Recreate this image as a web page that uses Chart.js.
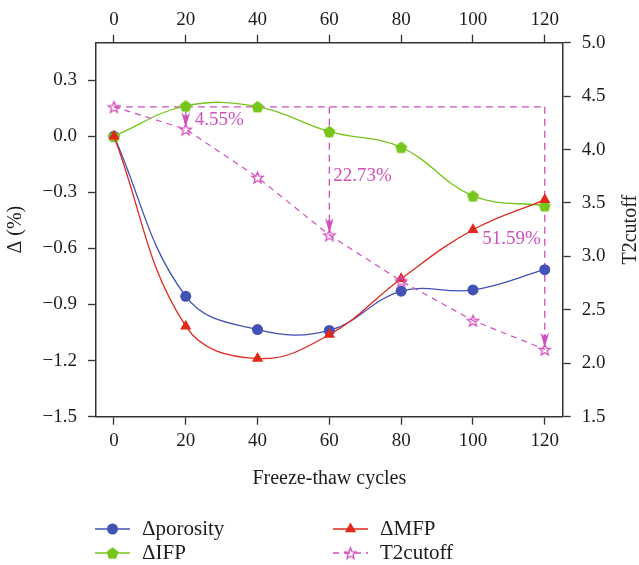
<!DOCTYPE html>
<html>
<head>
<meta charset="utf-8">
<script src="https://cdn.jsdelivr.net/npm/chart.js@4.4.0/dist/chart.umd.min.js"></script>
<style>
  html, body { margin: 0; padding: 0; background: #ffffff; }
  #wrap { width: 639px; height: 565px; position: relative; }
</style>
</head>
<body>
<div id="wrap"><canvas id="c" width="639" height="565"></canvas></div>
<script>
// ---- data ----
const cycles = [0, 20, 40, 60, 80, 100, 120];
const porosity = [0, -0.856, -1.034, -1.039, -0.829, -0.822, -0.714];
const mfp = [0, -1.016, -1.189, -1.061, -0.762, -0.500, -0.340];
const ifp = [0, 0.162, 0.158, 0.025, -0.059, -0.319, -0.372];
const t2cutoff = [4.40, 4.19, 3.74, 3.20, 2.77, 2.40, 2.13];
const refLevel = 4.40;
const arrowCycles = [20, 60, 120];
const arrowLabels = ['4.55%', '22.73%', '51.59%'];
const seriesNames = ['\u0394porosity', '\u0394IFP', '\u0394MFP', 'T2cutoff'];
const xTicks = [0, 20, 40, 60, 80, 100, 120];
const xTickLabels = ['0', '20', '40', '60', '80', '100', '120'];
const yTicks = [-1.5, -1.2, -0.9, -0.6, -0.3, 0.0, 0.3];
const yTickLabels = ['\u22121.5', '\u22121.2', '\u22120.9', '\u22120.6', '\u22120.3', '0.0', '0.3'];
const y2Ticks = [1.5, 2.0, 2.5, 3.0, 3.5, 4.0, 4.5, 5.0];
const y2TickLabels = ['1.5', '2.0', '2.5', '3.0', '3.5', '4.0', '4.5', '5.0'];

// ---- styles ----
const FONT = "'Liberation Serif', 'DejaVu Serif', serif";
const TXT = '#1e1b1c';
const AXIS = '#333333';
const BLUE = '#4151b6';
const GREEN = '#76c51b';
const RED = '#e2271b';
const MAG = '#d24fbd';

function pentagonCanvas(r, color) {
  const s = Math.ceil(r * 2 + 2);
  const cv = document.createElement('canvas');
  cv.width = s; cv.height = s;
  const g = cv.getContext('2d');
  g.fillStyle = color;
  g.beginPath();
  for (let i = 0; i < 5; i++) {
    const a = -Math.PI / 2 + i * 2 * Math.PI / 5;
    const px = s / 2 + r * Math.cos(a), py = s / 2 + r * Math.sin(a) + 0.6;
    i ? g.lineTo(px, py) : g.moveTo(px, py);
  }
  g.closePath(); g.fill();
  return cv;
}
function starCanvas(ro, ri, color) {
  const s = Math.ceil(ro * 2 + 3);
  const cv = document.createElement('canvas');
  cv.width = s; cv.height = s;
  const g = cv.getContext('2d');
  g.strokeStyle = color; g.lineWidth = 1.3;
  g.beginPath();
  for (let i = 0; i < 10; i++) {
    const a = -Math.PI / 2 + i * Math.PI / 5;
    const r = i % 2 ? ri : ro;
    const px = s / 2 + r * Math.cos(a), py = s / 2 + r * Math.sin(a) + 0.7;
    i ? g.lineTo(px, py) : g.moveTo(px, py);
  }
  g.closePath(); g.stroke();
  return cv;
}
const pent = pentagonCanvas(6.3, GREEN);
const star = starCanvas(6, 2.6, MAG);

const pts = arr => cycles.map((c, i) => ({ x: c, y: arr[i] }));

const refPlugin = {
  id: 'refLines',
  beforeDatasetsDraw(chart) {
    const { ctx, scales: { x, y2 } } = chart;
    ctx.save();
    ctx.strokeStyle = MAG; ctx.fillStyle = MAG; ctx.lineWidth = 1.3;
    const y0 = y2.getPixelForValue(refLevel);
    ctx.setLineDash([7, 5]);
    ctx.beginPath();
    ctx.moveTo(x.getPixelForValue(cycles[0]), y0);
    ctx.lineTo(x.getPixelForValue(cycles[cycles.length - 1]), y0);
    ctx.stroke();
    const lbl = [
      { dx: 9, dy: 13, align: 'left' },
      { dx: 4, dy: 69, align: 'left' },
      { dx: -4, dy: 132, align: 'right' }
    ];
    arrowCycles.forEach((c, i) => {
      const idx = cycles.indexOf(c);
      const px = x.getPixelForValue(c);
      const tipY = y2.getPixelForValue(t2cutoff[idx]) - 2;
      ctx.setLineDash([7, 5]);
      ctx.beginPath(); ctx.moveTo(px, y0); ctx.lineTo(px, tipY - 10); ctx.stroke();
      ctx.setLineDash([]);
      ctx.beginPath();
      ctx.moveTo(px, tipY);
      ctx.lineTo(px - 4.3, tipY - 15);
      ctx.lineTo(px, tipY - 10);
      ctx.lineTo(px + 4.3, tipY - 15);
      ctx.closePath(); ctx.fill();
      ctx.fillRect(px - 1.2, tipY - 13, 2.4, 9);
      ctx.font = '19px ' + FONT;
      ctx.textAlign = lbl[i].align; ctx.textBaseline = 'middle';
      ctx.fillText(arrowLabels[i], px + lbl[i].dx, y0 + lbl[i].dy);
    });
    ctx.restore();
  },
  afterDraw(chart) {
    const { ctx, chartArea } = chart;
    ctx.save();
    // right axis title (reads upward)
    ctx.fillStyle = TXT;
    ctx.font = '20px ' + FONT;
    ctx.translate(631, (chartArea.top + chartArea.bottom) / 2);
    ctx.rotate(-Math.PI / 2);
    ctx.textAlign = 'center'; ctx.textBaseline = 'middle';
    ctx.fillText('T2cutoff', 0, 0);
    ctx.restore();
    // legend
    const items = [
      { ds: 0, x: 95, y: 529 },
      { ds: 2, x: 333, y: 529 },
      { ds: 1, x: 95, y: 553 },
      { ds: 3, x: 333, y: 553 }
    ];
    items.forEach(it => {
      const d = chart.data.datasets[chart.data.datasets.findIndex(z => z.label === seriesNames[it.ds])];
      ctx.save();
      ctx.strokeStyle = d.borderColor; ctx.lineWidth = 1.3;
      ctx.setLineDash(d.borderDash || []);
      ctx.beginPath(); ctx.moveTo(it.x, it.y); ctx.lineTo(it.x + 35, it.y); ctx.stroke();
      ctx.setLineDash([]);
      ctx.fillStyle = d.pointBackgroundColor || d.borderColor;
      Chart.helpers.drawPoint(ctx, { pointStyle: d.pointStyle, radius: d.pointRadius, rotation: 0, borderWidth: 0 }, it.x + 17.5, it.y);
      ctx.fillStyle = TXT;
      ctx.font = '21px ' + FONT;
      ctx.textAlign = 'left'; ctx.textBaseline = 'middle';
      ctx.fillText(d.label, it.x + 47, it.y);
      ctx.restore();
    });
  }
};

const tickFont = { family: FONT, size: 19 };
const axisCommon = (extra) => Object.assign({
  type: 'linear',
  grid: { drawOnChartArea: false, drawTicks: true, tickLength: 8, tickWidth: 1.3, tickColor: AXIS },
  border: { display: true, color: AXIS, width: 1.5 }
}, extra);

new Chart(document.getElementById('c'), {
  type: 'line',
  data: {
    datasets: [
      {
        label: seriesNames[3], data: pts(t2cutoff), yAxisID: 'y2', xAxisID: 'x',
        borderColor: MAG, borderWidth: 1.2, borderDash: [6, 5], tension: 0,
        pointStyle: star, pointRadius: 6, pointHoverRadius: 6, fill: false
      },
      {
        label: seriesNames[2], data: pts(mfp), yAxisID: 'y', xAxisID: 'x',
        borderColor: RED, backgroundColor: RED, pointBackgroundColor: RED, borderWidth: 1.3,
        tension: 0.4, pointStyle: 'triangle', pointRadius: 6.5, pointBorderWidth: 0, fill: false
      },
      {
        label: seriesNames[1], data: pts(ifp), yAxisID: 'y', xAxisID: 'x',
        borderColor: GREEN, backgroundColor: GREEN, pointBackgroundColor: GREEN, borderWidth: 1.3,
        tension: 0.4, pointStyle: pent, pointRadius: 6.5, fill: false
      },
      {
        label: seriesNames[0], data: pts(porosity), yAxisID: 'y', xAxisID: 'x',
        borderColor: BLUE, backgroundColor: BLUE, pointBackgroundColor: BLUE, borderWidth: 1.3,
        tension: 0.4, pointStyle: 'circle', pointRadius: 5.5, pointBorderWidth: 0, fill: false
      }
    ]
  },
  options: {
    responsive: false,
    animation: false,
    devicePixelRatio: 1,
    layout: { padding: 0 },
    plugins: { legend: { display: false }, tooltip: { enabled: false } },
    scales: {
      x: axisCommon({
        position: 'bottom', min: -5, max: 125,
        afterBuildTicks: s => { s.ticks = xTicks.map(v => ({ value: v })); },
        afterFit: s => { s.height = 148.3; },
        ticks: { font: tickFont, color: TXT, padding: 5, autoSkip: false, maxRotation: 0,
                 callback: (v, i) => xTickLabels[i] },
        title: { display: true, text: 'Freeze-thaw cycles', color: TXT,
                 font: { family: FONT, size: 20 }, padding: { top: 0, bottom: 74 } }
      }),
      x2: axisCommon({
        position: 'top', min: -5, max: 125,
        afterBuildTicks: s => { s.ticks = xTicks.map(v => ({ value: v })); },
        afterFit: s => { s.height = 42.7; },
        ticks: { font: tickFont, color: TXT, padding: 3, autoSkip: false, maxRotation: 0,
                 callback: (v, i) => xTickLabels[i] }
      }),
      y: axisCommon({
        position: 'left', min: -1.5, max: 0.5,
        afterBuildTicks: s => { s.ticks = yTicks.map(v => ({ value: v })); },
        afterFit: s => { s.width = 96; },
        ticks: { font: tickFont, color: TXT, padding: 11, autoSkip: false,
                 callback: (v, i) => yTickLabels[i] },
        title: { display: true, text: '\u0394 (%)', color: TXT,
                 font: { family: FONT, size: 20 }, padding: { top: 4, bottom: 0 } }
      }),
      y2: axisCommon({
        position: 'right', min: 1.5, max: 5.0,
        afterBuildTicks: s => { s.ticks = y2Ticks.map(v => ({ value: v })); },
        afterFit: s => { s.width = 76.3; },
        ticks: { font: tickFont, color: TXT, padding: 11, autoSkip: false,
                 callback: (v, i) => y2TickLabels[i] }
      })
    }
  },
  plugins: [refPlugin]
});
</script>
</body>
</html>
